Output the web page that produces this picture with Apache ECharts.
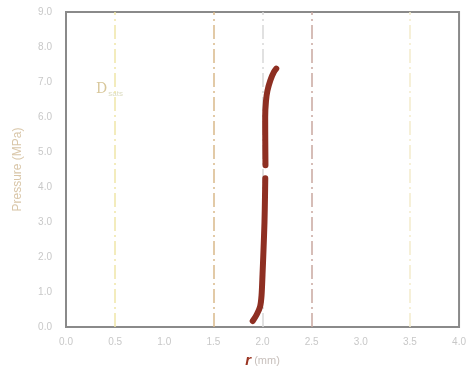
<!DOCTYPE html>
<html>
<head>
<meta charset="utf-8">
<script src="https://cdn.jsdelivr.net/npm/echarts@6/dist/echarts.min.js"></script>
<style>
  html, body { margin: 0; padding: 0; background: #fff; }
  #chart { width: 469px; height: 373px; }
</style>
</head>
<body>
<div id="chart"></div>
<script>
// pressure vs r, two measured segments
const lowerSegment = [
  [1.90, 0.17], [1.94, 0.35], [1.975, 0.58], [1.99, 0.9], [2.0, 1.5],
  [2.01, 2.2], [2.02, 3.0], [2.025, 3.7], [2.028, 4.25]
]
const upperSegment = [
  [2.03, 4.62], [2.028, 5.3], [2.027, 6.0], [2.035, 6.45], [2.05, 6.75],
  [2.08, 7.05], [2.115, 7.28], [2.14, 7.38]
]
const xTicks = [0, 0.5, 1, 1.5, 2, 2.5, 3, 3.5, 4]
const yTicks = [0, 1, 2, 3, 4, 5, 6, 7, 8, 9]
const refLines = [0.5, 1.5, 2.0, 2.5, 3.5]
const refColors = ['#efe6a8', '#d9b98a', '#d8d8d8', '#c9a8a0', '#f3eccb']

const chart = echarts.init(document.getElementById('chart'))

const option = {
  animation: false,
  grid: { left: 66, right: 6, top: 12, bottom: 44, show: true, borderColor: '#8a8a8a', borderWidth: 2 },
  xAxis: {
    type: 'value',
    min: xTicks[0], max: xTicks[xTicks.length - 1], interval: 0.5,
    axisLine: { show: true, lineStyle: { color: '#8a8a8a', width: 2 } },
    axisTick: { show: false },
    splitLine: { show: false },
    axisLabel: { color: '#c8c8c8', fontSize: 10, margin: 10, formatter: v => v.toFixed(1) },
    name: '{r|r} (mm)',
    nameLocation: 'middle',
    nameGap: 26,
    nameTextStyle: {
      color: '#c8c0bc', fontSize: 11,
      rich: { r: { color: '#9a3522', fontWeight: 'bold', fontStyle: 'italic', fontSize: 15 } }
    }
  },
  yAxis: {
    type: 'value',
    min: yTicks[0], max: yTicks[yTicks.length - 1], interval: 1,
    axisLine: { show: true, lineStyle: { color: '#8a8a8a', width: 2 } },
    axisTick: { show: false },
    splitLine: { show: false },
    axisLabel: { color: '#c8c8c8', fontSize: 10, margin: 14, formatter: v => v.toFixed(1) },
    name: 'Pressure (MPa)',
    nameLocation: 'middle',
    nameGap: 42,
    nameTextStyle: { color: '#d9c6a8', fontSize: 12 }
  },
  series: [
    {
      // reference lines only
      type: 'line',
      data: [],
      z: 1,
      markLine: {
        silent: true,
        symbol: 'none',
        label: { show: false },
        data: refLines.map((x, i) => ({
          xAxis: x,
          lineStyle: { color: refColors[i], width: 1.5, type: [14, 4, 2, 4] }
        }))
      }
    },
    {
      type: 'line',
      data: lowerSegment,
      z: 5,
      showSymbol: false,
      smooth: 0.3,
      lineStyle: { color: '#8e2f22', width: 6, cap: 'round' }
    },
    {
      type: 'line',
      data: upperSegment,
      z: 5,
      showSymbol: false,
      smooth: 0.3,
      lineStyle: { color: '#8e2f22', width: 6, cap: 'round' }
    }
  ],
  graphic: [
    {
      type: 'text',
      left: 96, top: 82,
      style: {
        text: '{d|D}{s|sats}',
        rich: {
          d: { fill: '#d8c79a', fontSize: 14, fontFamily: 'DejaVu Serif' },
          s: { fill: '#dcdcc0', fontSize: 8, padding: [10, 0, 0, 1] }
        }
      }
    }
  ]
}
chart.setOption(option)
</script>
</body>
</html>
